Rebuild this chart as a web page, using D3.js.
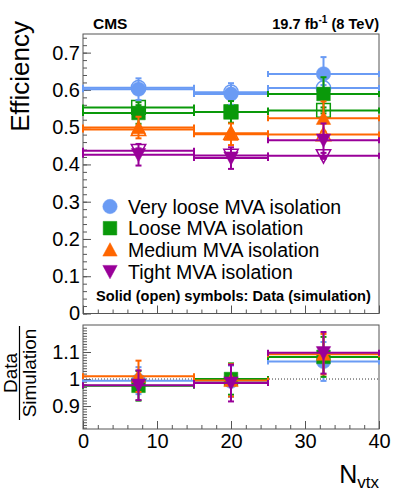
<!DOCTYPE html>
<html><head><meta charset="utf-8">
<script src="https://cdn.jsdelivr.net/npm/d3@7"></script>
<style>
html,body{margin:0;padding:0;background:#fff;}
svg{display:block;font-family:"Liberation Sans",Arial,Helvetica,sans-serif;}
</style></head>
<body>
<svg id="c" width="399" height="499"></svg>
<script>
// ---- data ----
const binLow = [0, 15, 25];
const binHigh = [15, 25, 40];
const binCenter = [7.5, 20, 32.5];

const seriesNames = ["Very loose MVA isolation", "Loose MVA isolation", "Medium MVA isolation", "Tight MVA isolation"];
const seriesColors = ["#6a9bf4", "#0a990a", "#ff6600", "#990099"];
const seriesShapes = ["circle", "square", "triangleUp", "triangleDown"];

const veryLooseData = [0.602, 0.589, 0.643];
const veryLooseSim  = [0.606, 0.594, 0.605];
const looseData     = [0.538, 0.541, 0.589];
const looseSim      = [0.553, 0.541, 0.545];
const mediumData    = [0.499, 0.481, 0.524];
const mediumSim     = [0.494, 0.484, 0.480];
const tightData     = [0.426, 0.417, 0.465];
const tightSim      = [0.437, 0.424, 0.423];

const dataErr = [0.029, 0.029, 0.045];
const simErr  = [0.006, 0.006, 0.008];

const veryLooseRatio = [0.994, 0.992, 1.065];
const looseRatio     = [0.975, 1.000, 1.082];
const mediumRatio    = [1.010, 0.995, 1.092];
const tightRatio     = [0.977, 0.985, 1.097];
const veryLooseRatioErr = [0.050, 0.058, 0.072];
const looseRatioErr     = [0.055, 0.058, 0.074];
const mediumRatioErr    = [0.058, 0.060, 0.075];
const tightRatioErr     = [0.055, 0.068, 0.077];

const xTicks = [0, 10, 20, 30, 40];
const yTicks = [0, 0.1, 0.2, 0.3, 0.4, 0.5, 0.6, 0.7];
const rTicks = [0.9, 1, 1.1];
const rTickLabels = ["0.9", "1", "1.1"];

// ---- build ----
const dataSets = [veryLooseData, looseData, mediumData, tightData];
const simSets = [veryLooseSim, looseSim, mediumSim, tightSim];
const ratioSets = [veryLooseRatio, looseRatio, mediumRatio, tightRatio];
const ratioErrSets = [veryLooseRatioErr, looseRatioErr, mediumRatioErr, tightRatioErr];

const svg = d3.select("#c");
const FRAME = "#555";
const x = d3.scaleLinear().domain([0, 40]).range([83, 379]);
const yT = d3.scaleLinear().domain([0, 0.75]).range([313.5, 34]);
const yR = d3.scaleLinear().domain([0.815, 1.2]).range([429, 325]);

function markerPath(shape) {
  const r = 7.2;
  if (shape === "circle") return d3.symbol(d3.symbolCircle, Math.PI * r * r)();
  if (shape === "square") { const s = 6.8; return `M${-s},${-s}H${s}V${s}H${-s}Z`; }
  if (shape === "triangleUp") return `M0,${-r}L${r},${r - 1}L${-r},${r - 1}Z`;
  return `M0,${r}L${r},${-r + 1}L${-r},${-r + 1}Z`;
}

function drawAxes(g, y, ticksMajor, minorVals, labels, showXLabels, yBottom, yTopPx) {
  g.append("rect").attr("x", x(0)).attr("y", yTopPx).attr("width", x(40) - x(0)).attr("height", yBottom - yTopPx)
    .attr("fill", "none").attr("stroke", FRAME).attr("stroke-width", 1);
  const yMin = g.append("g").attr("transform", `translate(${x(0)},0)`)
    .call(d3.axisLeft(y).tickValues(minorVals).tickSizeInner(-4).tickSizeOuter(0).tickFormat(""));
  yMin.select(".domain").remove();
  yMin.selectAll("line").attr("stroke", FRAME);
  const yMaj = g.append("g").attr("transform", `translate(${x(0)},0)`)
    .call(d3.axisLeft(y).tickValues(ticksMajor).tickSizeInner(-8).tickSizeOuter(0).tickPadding(3)
      .tickFormat((d, i) => labels[i]));
  yMaj.select(".domain").remove();
  yMaj.selectAll("line").attr("stroke", FRAME);
  yMaj.selectAll("text").attr("font-size", 20).attr("fill", "#000").attr("font-family", "Liberation Sans, Arial, sans-serif");
  const xMinor = d3.range(0, 41, 2).filter(v => v % 10 !== 0);
  const xm = g.append("g").attr("transform", `translate(0,${yBottom})`)
    .call(d3.axisBottom(x).tickValues(xMinor).tickSizeInner(-4).tickSizeOuter(0).tickFormat(""));
  xm.select(".domain").remove();
  xm.selectAll("line").attr("stroke", FRAME);
  const xM = g.append("g").attr("transform", `translate(0,${yBottom})`)
    .call(d3.axisBottom(x).tickValues(xTicks).tickSizeInner(-8).tickSizeOuter(0).tickPadding(5)
      .tickFormat(showXLabels ? d3.format("d") : ""));
  xM.select(".domain").remove();
  xM.selectAll("line").attr("stroke", FRAME);
  xM.selectAll("text").attr("font-size", 20).attr("fill", "#000").attr("font-family", "Liberation Sans, Arial, sans-serif");
}

function drawPoint(g, y, xi, val, err, color, shape, filled) {
  const xl = x(binLow[xi]), xh = x(binHigh[xi]), xc = x(binCenter[xi]), yc = y(val);
  const yt = y(val + err), yb = y(val - err);
  const cap = 3;
  const ln = (x1, y1, x2, y2) => g.append("line").attr("x1", x1).attr("x2", x2).attr("y1", y1).attr("y2", y2)
    .attr("stroke", color).attr("stroke-width", 2);
  ln(xl, yc, xh, yc);
  ln(xl, yc - cap, xl, yc + cap);
  ln(xh, yc - cap, xh, yc + cap);
  ln(xc, yt, xc, yb);
  ln(xc - cap, yt, xc + cap, yt);
  ln(xc - cap, yb, xc + cap, yb);
  g.append("path").attr("d", markerPath(shape)).attr("transform", `translate(${xc},${yc})`)
    .attr("fill", filled ? color : "none").attr("stroke", color).attr("stroke-width", filled ? 0.5 : 1.5);
}

// ---- top pad ----
const topPad = svg.append("g");
drawAxes(topPad, yT, yTicks, d3.range(0, 0.751, 0.02).map(v => +v.toFixed(2)), yTicks.map(v => v === 0 ? "0" : v.toFixed(1)), false, 313.5, 34);

seriesNames.forEach((name, s) => {
  binCenter.forEach((c, i) => drawPoint(topPad, yT, i, simSets[s][i], simErr[i], seriesColors[s], seriesShapes[s], false));
});
seriesNames.forEach((name, s) => {
  binCenter.forEach((c, i) => drawPoint(topPad, yT, i, dataSets[s][i], dataErr[i], seriesColors[s], seriesShapes[s], true));
});

// legend
seriesNames.forEach((name, s) => {
  const ly = 206.5 + s * 21.7;
  topPad.append("path").attr("d", markerPath(seriesShapes[s])).attr("transform", `translate(110,${ly})`)
    .attr("fill", seriesColors[s]).attr("stroke", seriesColors[s]).attr("stroke-width", 0.5);
  topPad.append("text").attr("x", 128).attr("y", ly).attr("dy", "0.36em").attr("font-size", 19.5).text(name);
});
topPad.append("text").attr("x", 96).attr("y", 301).attr("font-size", 14.6).attr("font-weight", "bold")
  .text("Solid (open) symbols: Data (simulation)");

// header
svg.append("text").attr("x", 93).attr("y", 28.5).attr("font-size", 15.5).attr("font-weight", "bold").text("CMS");
const lumi = svg.append("text").attr("x", 379).attr("y", 28.5).attr("text-anchor", "end").attr("font-size", 14.6).attr("font-weight", "bold");
lumi.append("tspan").text("19.7 fb");
lumi.append("tspan").attr("dy", -6).attr("font-size", 10).text("-1");
lumi.append("tspan").attr("dy", 6).text(" (8 TeV)");

// y title
svg.append("text").attr("transform", "translate(29,21) rotate(-90)").attr("text-anchor", "end")
  .attr("font-size", 26).text("Efficiency");

// ---- ratio pad ----
const botPad = svg.append("g");
const rMinor = d3.range(0.82, 1.2, 0.01).map(v => +v.toFixed(2)).filter(v => !rTicks.includes(v));
drawAxes(botPad, yR, rTicks, rMinor, rTickLabels, true, 429, 325);
botPad.append("line").attr("x1", x(0)).attr("x2", x(40)).attr("y1", yR(1)).attr("y2", yR(1))
  .attr("stroke", "#333").attr("stroke-width", 1).attr("stroke-dasharray", "1,2");
seriesNames.forEach((name, s) => {
  binCenter.forEach((c, i) => drawPoint(botPad, yR, i, ratioSets[s][i], ratioErrSets[s][i], seriesColors[s], seriesShapes[s], true));
});

// ratio y title
const rt = svg.append("g").attr("transform", "translate(0,373) rotate(-90)");
rt.append("text").attr("x", 0).attr("y", 17).attr("text-anchor", "middle").attr("font-size", 19).text("Data");
rt.append("text").attr("x", 0).attr("y", 35.5).attr("text-anchor", "middle").attr("font-size", 19).text("Simulation");
rt.append("line").attr("x1", -47).attr("x2", 47).attr("y1", 19.5).attr("y2", 19.5).attr("stroke", "#000").attr("stroke-width", 1.2);

// x title
const xt = svg.append("text").attr("x", 379).attr("y", 483).attr("text-anchor", "end").attr("font-size", 25);
xt.append("tspan").text("N");
xt.append("tspan").attr("dy", 5).attr("font-size", 17).text("vtx");
</script>
</body></html>
